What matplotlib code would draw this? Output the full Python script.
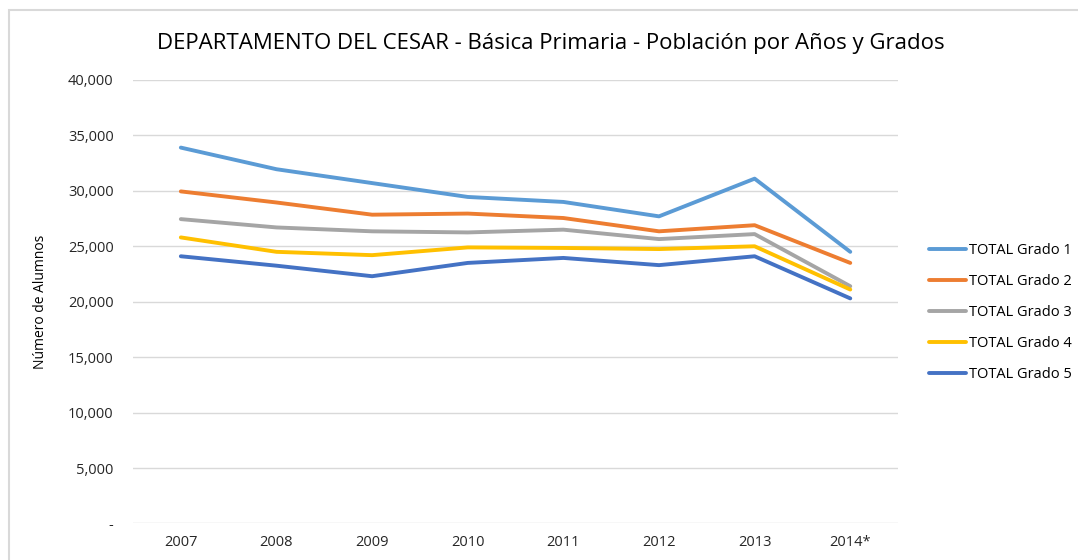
import matplotlib.pyplot as plt
import matplotlib.patches as mpatches
from matplotlib.ticker import FuncFormatter

# ── Data ───────────────────────────────────────────────────
years = ["2007", "2008", "2009", "2010", "2011", "2012", "2013", "2014*"]
grado1 = [33900, 31950, 30700, 29450, 29000, 27700, 31100, 24500]
grado2 = [29950, 28950, 27850, 27950, 27550, 26350, 26900, 23500]
grado3 = [27450, 26700, 26350, 26250, 26500, 25650, 26100, 21400]
grado4 = [25800, 24500, 24200, 24900, 24850, 24750, 25000, 21100]
grado5 = [24100, 23250, 22300, 23500, 23950, 23300, 24100, 20300]

series = [
    ("TOTAL Grado 1", grado1, "#5B9BD5"),
    ("TOTAL Grado 2", grado2, "#ED7D31"),
    ("TOTAL Grado 3", grado3, "#A5A5A5"),
    ("TOTAL Grado 4", grado4, "#FFC000"),
    ("TOTAL Grado 5", grado5, "#4472C4"),
]

plt.rcParams.update({
    "font.family": ["Open Sans", "DejaVu Sans"],
    "font.size": 10,
})

fig = plt.figure(figsize=(10.78, 5.6), dpi=100)
ax = fig.add_axes([0.1234, 0.0652, 0.7097, 0.7920])

x = range(len(years))
for label, vals, color in series:
    ax.plot(x, vals, color=color, linewidth=2.8, label=label, solid_capstyle="round")

ax.set_xlim(-0.5, len(years) - 0.5)
ax.set_ylim(0, 40000)
ax.set_yticks(range(0, 40001, 5000))
ax.yaxis.set_major_formatter(FuncFormatter(lambda v, p: f"{v:,.0f}" if v else "-"))
ax.set_xticks(list(x))
ax.set_xticklabels(years)
ax.tick_params(length=0, labelsize=10.5, colors="#262626", pad=8)
ax.tick_params(axis="y", pad=14)
ax.grid(axis="y", color="#D9D9D9", linewidth=1.0)
ax.set_axisbelow(True)
for s in ax.spines.values():
    s.set_visible(False)

ax.set_ylabel("Número de Alumnos", fontsize=10, color="#000000", labelpad=14)

fig.text(0.511, 0.923, "DEPARTAMENTO DEL CESAR - Básica Primaria - Población por Años y Grados",
         ha="center", va="center", fontsize=16, color="#000000")

fig.legend(loc="center left", bbox_to_anchor=(0.850, 0.442), frameon=False,
           fontsize=10.5, handlelength=2.5, labelspacing=1.1, handletextpad=0.2)

# chart area border (image is cropped at right and bottom)
fig.patches.append(mpatches.Rectangle((0.008, -0.05), 1.1, 1.032, transform=fig.transFigure,
                                      fill=False, edgecolor="#D9D9D9", linewidth=1.5))

plt.savefig("out.png", dpi=100)
